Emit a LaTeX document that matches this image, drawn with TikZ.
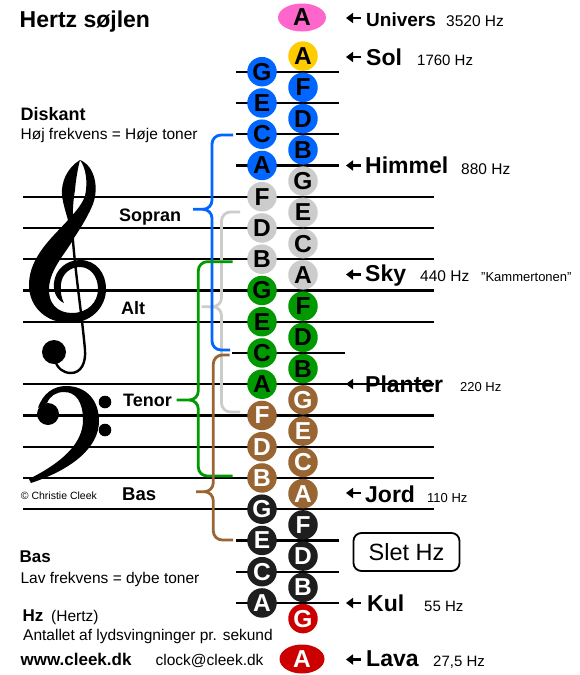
\documentclass[tikz,border=0pt]{standalone}
\usepackage{fontspec}
\setmainfont{Liberation Sans}
\usetikzlibrary{arrows.meta,shapes.geometric}
\definecolor{cblue}{HTML}{0066FF}
\definecolor{cgray}{HTML}{CCCCCC}
\definecolor{cgreen}{HTML}{009900}
\definecolor{cbrown}{HTML}{996633}
\definecolor{cblack}{HTML}{1E1E1E}
\definecolor{cred}{HTML}{CC0000}
\definecolor{cgold}{HTML}{FFCC00}
\definecolor{cpink}{HTML}{FF66CC}
\newcommand\myfs[1]{\fontsize{#1}{#1}\selectfont}
\newcommand\mybrace[8]{%
 \draw[bracestyle,#1] (#2,#3) -- ({#4+9},#3) .. controls ({#4+4},#3) and (#4,{#3+4}) .. (#4,{#3+9})
   -- (#4,{#6-9}) .. controls (#4,{#6-4}) and ({#4-4},#6) .. ({#4-9},#6) -- (#5,#6)
   ({#4-9},#6) .. controls ({#4-4},#6) and (#4,{#6+4}) .. (#4,{#6+9})
   -- (#4,{#8-9}) .. controls (#4,{#8-4}) and ({#4+4},#8) .. ({#4+9},#8) -- (#7,#8);}
\begin{document}
\begin{tikzpicture}[x=1pt,y=-1pt,
  staff/.style={line width=2.1pt,black},
  bracestyle/.style={line width=2.8pt},
  note/.style={circle,minimum size=29.5pt,inner sep=0pt,font=\myfs{24.5}\bfseries},
  lbl/.style={anchor=base west,inner sep=0pt},
  big/.style={lbl,font=\myfs{23}\bfseries},
  hz/.style={lbl,font=\myfs{15.5}},
  ptr/.style={line width=2.4pt,-{Triangle[length=7pt,width=10pt]}}]
\useasboundingbox (0,0) rectangle (580,675);
\fill[white] (0,0) rectangle (580,675);
% staff lines
\foreach \k in {4,5,6,7,8,10,11,12,13,14}
  \draw[staff] (23,{71.7+31.25*\k}) -- (434,{71.7+31.25*\k});
\foreach \k in {0,1,2,3,15,16,17}
  \draw[staff] (236,{71.7+31.25*\k}) -- (339,{71.7+31.25*\k});
\draw[staff] (232,352.95) -- (345,352.95);
% treble clef
\fill (80,160) .. controls (95,166) and (99,188) .. (93,204)
  .. controls (89,214) and (82,226) .. (74,238)
  .. controls (67,252) and (50,268) .. (49,288)
  .. controls (48,303) and (57,313) .. (72,313)
  .. controls (88,313) and (98,302) .. (98,289)
  .. controls (98,276) and (90,267) .. (80,267)
  .. controls (70,267) and (62,274) .. (61,284)
  .. controls (60,293) and (62,299) .. (64,303)
  .. controls (57,300) and (53,292) .. (54,283)
  .. controls (55,270) and (66,260) .. (80,260)
  .. controls (96,260) and (106,273) .. (106,289)
  .. controls (106,308) and (90,323) .. (70,323)
  .. controls (45,323) and (29,306) .. (29,285)
  .. controls (29,265) and (41,249) .. (54,235)
  .. controls (66,222) and (81,208) .. (85,196)
  .. controls (88,182) and (86,168) .. (80,160) -- cycle;
\fill (80,160) .. controls (67,168) and (61,182) .. (62,195)
  .. controls (63,205) and (67,215) .. (70,228) -- (74,228)
  .. controls (72,214) and (73,202) .. (75,190)
  .. controls (76,178) and (78,168) .. (80,160) -- cycle;
\draw[line width=2.4pt] (72,226) .. controls (74,265) and (82,315) .. (85,350)
  .. controls (86,363) and (81,373) .. (71,373) .. controls (63,373) and (57,368) .. (55,360);
\fill (54,352) circle (12pt);
% bass clef
\fill (38,408) .. controls (43,393) and (54,386) .. (66,386)
  .. controls (87,386) and (99,401) .. (99,421)
  .. controls (99,447) and (73,469) .. (31,483) -- (29,479)
  .. controls (61,463) and (83,444) .. (83,420)
  .. controls (83,402) and (76,392) .. (64,392)
  .. controls (56,392) and (50,396) .. (47,403) -- cycle;
\fill (48,414) circle (11pt);
\fill (105,402) circle (6.3pt);
\fill (105,430) circle (6.3pt);
% braces
\mybrace{cgray}{240}{212}{221.5}{201.7}{306.7}{240}{412}
\mybrace{cblue}{233}{135}{212}{193}{209.3}{230}{350}
\mybrace{cgreen}{232.7}{261.7}{198.3}{176.7}{400}{232.7}{476}
\mybrace{cbrown}{229.5}{355}{213.3}{196}{491.7}{233}{540}
% notes, left column (on lines)
\foreach \k/\l/\c/\t in {0/G/cblue/black,1/E/cblue/black,2/C/cblue/black,3/A/cblue/black,
  4/F/cgray/black,5/D/cgray/black,6/B/cgray/black,
  7/G/cgreen/black,8/E/cgreen/black,9/C/cgreen/black,10/A/cgreen/black,
  11/F/cbrown/white,12/D/cbrown/white,13/B/cbrown/white,
  14/G/cblack/white,15/E/cblack/white,16/C/cblack/white,17/A/cblack/white}
  \node[note,fill=\c,text=\t] (L\k) at (262,{71.7+31.25*\k}) {\l};
% notes, right column (in spaces)
\foreach \k/\l/\c/\t in {0/A/cgold/black,1/F/cblue/black,2/D/cblue/black,3/B/cblue/black,
  4/G/cgray/black,5/E/cgray/black,6/C/cgray/black,7/A/cgray/black,
  8/F/cgreen/black,9/D/cgreen/black,10/B/cgreen/black,
  11/G/cbrown/white,12/E/cbrown/white,13/C/cbrown/white,14/A/cbrown/white,
  15/F/cblack/white,16/D/cblack/white,17/B/cblack/white,18/G/cred/white}
  \node[note,fill=\c,text=\t] (R\k) at (303,{71.7+31.25*\k-15.6}) {\l};
\node[ellipse,fill=cpink,minimum width=48pt,minimum height=28pt,inner sep=0pt,font=\myfs{24.5}\bfseries] (univ) at (302,17.5) {A};
\node[ellipse,fill=cred,text=white,minimum width=45pt,minimum height=29pt,inner sep=0pt,font=\myfs{24.5}\bfseries] (lava) at (302,659) {A};
% pointers
\foreach \n/\y in {pU/18,pS/57,pH/165.5,pK/274.5,pP/384,pJ/493,pC/603,pL/659.5}{
  \coordinate (\n a) at (361,\y); \coordinate (\n b) at (346,\y);
  \draw[ptr] (\n a) -- (\n b);}
% right labels
\node[lbl,font=\myfs{19}\bfseries] (tU) at (366,26) {Univers};
\node[hz] (hU) at (446,26.7) {3520 Hz};
\node[big] (tS) at (366,65.7) {Sol};
\node[lbl,font=\myfs{15}] (hS) at (417,65) {1760 Hz};
\node[big] (tH) at (365,173.3) {Himmel};
\node[hz] (hH) at (461,174) {880 Hz};
\node[big] (tK) at (365,281.5) {Sky};
\node[hz] (hK) at (420,281.7) {440 Hz};
\node[lbl,font=\myfs{13}] (kam) at (481,281.7) {"Kammertonen"};
\node[big] (tP) at (365,392.7) {Planter};
\node[lbl,font=\myfs{13}] (hP) at (460,391.7) {220 Hz};
\node[big] (tJ) at (365,502.5) {Jord};
\node[lbl,font=\myfs{13}] (hJ) at (427,502.7) {110 Hz};
\node[big] (tC) at (367,611.7) {Kul};
\node[lbl,font=\myfs{15}] (hC) at (424,611.7) {55 Hz};
\node[big] (tL) at (366,666.7) {Lava};
\node[lbl,font=\myfs{15}] (hL) at (433,666.7) {27,5 Hz};
% left texts
\node[lbl,font=\myfs{23}\bfseries] (title) at (19.5,27.7) {Hertz søjlen};
\node[lbl,font=\myfs{18}\bfseries] (disk) at (20.4,120) {Diskant};
\node[lbl,font=\myfs{15.5}] (disk2) at (20.4,139) {Høj frekvens = Høje toner};
\node[lbl,font=\myfs{18}\bfseries] (sop) at (119,221) {Sopran};
\node[lbl,font=\myfs{18}\bfseries] (alt) at (121,314) {Alt};
\node[lbl,font=\myfs{18}\bfseries] (ten) at (123,406) {Tenor};
\node[lbl,font=\myfs{18.5}\bfseries] (bas1) at (122,500) {Bas};
\node[lbl,font=\myfs{10.5}] (copy) at (20.7,499) {© Christie Cleek};
\node[lbl,font=\myfs{17}\bfseries] (bas2) at (19.5,562.3) {Bas};
\node[lbl,font=\myfs{15.5}] (bas3) at (20.4,583) {Lav frekvens = dybe toner};
\node[lbl,font=\myfs{17}\bfseries] (hz1) at (22.3,621.5) {Hz};
\node[lbl,font=\myfs{15.5}] (hz2) at (51,621.5) {(Hertz)};
\node[lbl,font=\myfs{15.5}] (hz3) at (23,640) {Antallet af lydsvingninger pr. sekund};
\node[lbl,font=\myfs{17}\bfseries] (www) at (20.4,665.5) {www.cleek.dk};
\node[lbl,font=\myfs{15.5}] (mail) at (155.4,665.5) {clock@cleek.dk};
% button
\node[draw,line width=1.8pt,rounded corners=8pt,minimum width=106pt,minimum height=38pt,inner sep=0pt,font=\myfs{23.5}] (slet) at (406.5,552) {Slet Hz};
\end{tikzpicture}
\end{document}
